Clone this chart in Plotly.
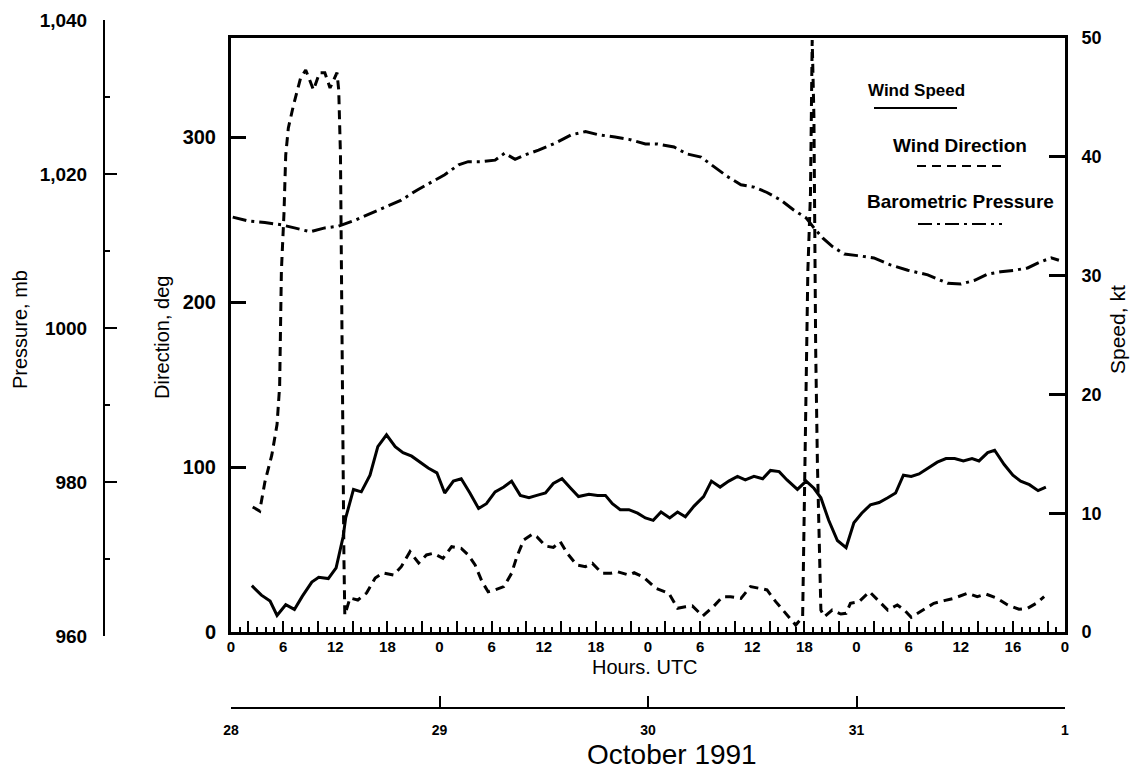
import plotly.graph_objects as go

# ---------------- data (hours after 28 Oct 1991 00 UTC) ----------------
speed_hours = [2.4, 3.5, 4.5, 5.3, 6.3, 7.3, 8.2, 9.3, 10.1, 11.2, 12.1, 12.9, 13.2, 14.1, 15.0,
               16.0, 16.9, 17.9, 18.9, 19.8, 20.8, 21.8, 22.7, 23.7, 24.6, 25.6, 26.5, 27.5, 28.5,
               29.4, 30.4, 31.4, 32.3, 33.3, 34.3, 35.2, 36.2, 37.1, 38.1, 39.1, 40.0, 41.2, 42.2,
               43.1, 43.9, 44.8, 45.8, 46.8, 47.7, 48.6, 49.5, 50.5, 51.4, 52.3, 53.3, 54.4, 55.3,
               56.3, 57.3, 58.3, 59.2, 60.2, 61.2, 62.1, 63.1, 64.0, 65.2, 66.2, 67.1, 67.9, 68.8,
               69.8, 70.8, 71.7, 72.6, 73.6, 74.6, 75.6, 76.5, 77.4, 78.3, 79.2, 80.2, 81.3, 82.3,
               83.3, 84.3, 85.3, 86.1, 87.1, 87.9, 89.0, 90.0, 90.9, 91.9, 92.9, 93.8]
speed_kt = [3.9, 3.1, 2.6, 1.4, 2.3, 1.9, 3.0, 4.2, 4.6, 4.5, 5.4, 8.0, 9.6, 12.0, 11.8,
            13.2, 15.6, 16.6, 15.6, 15.1, 14.8, 14.3, 13.8, 13.4, 11.7, 12.7, 12.9, 11.7, 10.4,
            10.8, 11.8, 12.2, 12.7, 11.5, 11.3, 11.5, 11.7, 12.5, 12.9, 12.1, 11.4, 11.6, 11.5,
            11.5, 10.8, 10.3, 10.3, 10.0, 9.6, 9.4, 10.1, 9.6, 10.1, 9.7, 10.6, 11.4, 12.7,
            12.2, 12.7, 13.1, 12.8, 13.1, 12.9, 13.6, 13.5, 12.8, 12.0, 12.7, 12.1, 11.3, 9.4,
            7.7, 7.1, 9.2, 10.0, 10.7, 10.9, 11.3, 11.7, 13.2, 13.1, 13.3, 13.8, 14.3, 14.6,
            14.6, 14.4, 14.6, 14.4, 15.1, 15.3, 14.1, 13.2, 12.7, 12.4, 11.9, 12.2]

dir_hours = [2.5, 3.3, 3.9, 4.7, 5.3, 5.6, 5.7, 5.8, 6.1, 6.3, 6.6, 7.2, 8.0, 8.6, 9.5, 10.2, 10.8,
             11.4, 12.2, 12.4, 12.6, 12.7, 12.8, 12.9, 13.0, 13.1, 13.7, 14.6, 15.6, 16.6, 17.5,
             18.7, 19.6, 20.6, 21.6, 22.5, 23.3, 24.4, 25.4, 26.5, 27.3, 28.1, 28.9, 29.6, 30.4,
             31.4, 32.3, 32.9, 33.7, 34.7, 35.2, 36.2, 37.1, 37.9, 38.7, 39.8, 40.8, 41.6, 42.7,
             43.7, 44.5, 45.8, 46.4, 47.5, 48.9, 50.4, 51.4, 52.3, 53.1, 54.3, 55.6, 56.6, 57.5,
             58.7, 59.8, 60.8, 61.7, 62.7, 64.0, 65.0, 65.8, 66.0, 66.2, 66.4, 66.7, 66.8, 66.9,
             67.1, 67.2, 67.3, 67.5, 67.7, 67.8, 67.9, 68.3, 69.2, 70.2, 70.8, 71.3, 72.3, 73.5,
             74.4, 75.6, 76.7, 77.5, 78.3, 79.8, 80.9, 82.1, 83.2, 84.8, 85.9, 86.9, 88.2, 89.4,
             90.7, 91.7, 92.7, 93.6]
dir_deg = [75.8, 73.3, 90.9, 107.3, 125.7, 149.1, 184.2, 218.8, 253.9, 289.1, 305.5, 319.4, 335.5,
           340.6, 328.5, 339.0, 339.0, 329.7, 339.0, 328.5, 289.1, 218.8, 149.1, 79.1, 44.2, 10.3,
           20.6, 19.4, 23.6, 32.7, 35.8, 34.5, 39.6, 48.7, 41.8, 46.7, 47.7, 44.7, 51.7, 50.7, 46.7,
           40.6, 30.5, 24.4, 25.5, 27.5, 35.6, 45.6, 55.8, 59.4, 57.8, 52.1, 51.3, 54.7, 47.7, 40.6,
           39.6, 41.6, 35.6, 35.6, 36.5, 34.5, 35.9, 33.2, 26.5, 23.5, 14.4, 15.3, 15.8, 9.7, 15.8,
           21.4, 21.4, 20.4, 27.5, 26.5, 25.5, 18.4, 10.3, 4.2, 9.1, 79.1, 149.1, 218.8, 265.5,
           312.1, 358.8, 312.1, 242.4, 172.1, 102.4, 55.8, 20.6, 13.3, 9.3, 13.3, 10.9, 11.3, 17.4,
           18.4, 24.4, 19.4, 13.3, 16.4, 13.3, 8.9, 13.8, 17.4, 19.0, 20.4, 23.5, 21.4, 23.0, 20.4,
           16.4, 13.8, 14.4, 17.4, 21.4]

pres_hours = [0.2, 2.0, 3.9, 5.8, 7.3, 9.1, 10.8, 12.3, 14.3, 16.2, 18.1, 19.6, 21.4, 23.1, 24.6,
              26.2, 27.3, 28.9, 30.4, 31.5, 32.7, 33.9, 35.4, 37.3, 39.2, 40.8, 42.3, 44.2, 45.8,
              47.7, 49.1, 51.0, 52.5, 54.1, 55.6, 57.1, 58.7, 60.2, 61.7, 63.3, 64.8, 66.2, 67.1,
              68.1, 69.2, 70.6, 72.1, 74.0, 75.9, 77.9, 80.2, 82.5, 84.0, 85.6, 87.1, 88.6, 90.2,
              91.7, 93.2, 94.4, 95.3]
pres_mb = [1014.4, 1013.9, 1013.7, 1013.4, 1013.0, 1012.5, 1013.0, 1013.2, 1014.0, 1014.9, 1015.8,
           1016.6, 1017.9, 1019.0, 1019.9, 1021.2, 1021.6, 1021.6, 1021.8, 1022.7, 1021.9, 1022.5,
           1023.1, 1024.0, 1025.1, 1025.5, 1025.1, 1024.8, 1024.5, 1023.9, 1023.9, 1023.5, 1022.6,
           1022.2, 1021.0, 1019.7, 1018.6, 1018.3, 1017.6, 1016.6, 1015.3, 1014.3, 1013.0, 1011.7,
           1010.6, 1009.6, 1009.4, 1009.1, 1008.2, 1007.5, 1006.9, 1005.8, 1005.7, 1006.2, 1007.0,
           1007.3, 1007.5, 1007.8, 1008.6, 1009.1, 1008.8]

hour_ticks = [0, 6, 12, 18, 24, 30, 36, 42, 48, 54, 60, 66, 72, 78, 84, 90, 96]
hour_labels = ['0', '6', '12', '18', '0', '6', '12', '18', '0', '6', '12', '18', '0', '6', '12', '16', '0']
day_ticks = [0, 24, 48, 72, 96]
day_labels = ['28', '29', '30', '31', '1']
dir_ticks = [0, 100, 200, 300]
speed_ticks = [0, 10, 20, 30, 40, 50]
pres_ticks = [960, 980, 1000, 1020, 1040]
pres_labels = ['960', '980', '1000', '1,020', '1,040']
pres_minor = [970, 990, 1010, 1030]

# ---------------- layout helpers (pixel -> paper) ----------------
W, H = 1134, 772
ML, MR, MT, MB = 10, 10, 10, 10
PW, PH = W - ML - MR, H - MT - MB


def fx(px):
    return (px - ML) / PW


def fy(py):
    return (H - MB - py) / PH


SANS = "Liberation Sans, Arial, sans-serif"
BLACK = "black"

fig = go.Figure()

fig.add_trace(go.Scatter(x=speed_hours, y=speed_kt, mode="lines", name="Wind Speed",
                         xaxis="x", yaxis="y2",
                         line=dict(color=BLACK, width=3), showlegend=False))
fig.add_trace(go.Scatter(x=dir_hours, y=dir_deg, mode="lines", name="Wind Direction",
                         xaxis="x", yaxis="y",
                         line=dict(color=BLACK, width=3, dash="9px,6px"), showlegend=False))
fig.add_trace(go.Scatter(x=pres_hours, y=pres_mb, mode="lines", name="Barometric Pressure",
                         xaxis="x", yaxis="y3",
                         line=dict(color=BLACK, width=3, dash="14px,5px,3px,5px"), showlegend=False))

# invisible helper traces so the hour-label axis and the date axis are rendered
fig.add_trace(go.Scatter(x=hour_ticks, y=[0] * len(hour_ticks), xaxis="x3", yaxis="y",
                         mode="markers", marker=dict(opacity=0), hoverinfo="skip",
                         showlegend=False))
fig.add_trace(go.Scatter(x=day_ticks, y=[0] * len(day_ticks), xaxis="x2", yaxis="y",
                         mode="markers", marker=dict(opacity=0), hoverinfo="skip",
                         showlegend=False))

xdom = [fx(231), fx(1065)]

fig.update_layout(
    width=W, height=H,
    margin=dict(l=ML, r=MR, t=MT, b=MB, autoexpand=False),
    paper_bgcolor="white", plot_bgcolor="rgba(0,0,0,0)",
    font=dict(family=SANS, color=BLACK),
    hovermode=False,
    xaxis=dict(domain=xdom, range=[0, 96], anchor="y", automargin=False,
               tickmode="linear", tick0=2, dtick=4, ticks="inside", ticklen=11, tickwidth=2,
               tickcolor=BLACK, showticklabels=False,
               minor=dict(dtick=1, tick0=0, ticks="inside", ticklen=5, tickwidth=1.5, tickcolor=BLACK),
               showline=True, linewidth=3, linecolor=BLACK, mirror=True,
               showgrid=False, zeroline=False, fixedrange=True),
    xaxis3=dict(overlaying="x", anchor="y", side="bottom", range=[0, 96], automargin=False,
                tickmode="array", tickvals=hour_ticks, ticktext=hour_labels, ticks="",
                tickfont=dict(family=SANS, size=15, weight="bold", color=BLACK),
                ticklabelstandoff=4,
                showline=False, showgrid=False, zeroline=False),
    xaxis2=dict(overlaying="x", anchor="free", position=fy(708), side="bottom", range=[0, 96],
                automargin=False,
                tickmode="array", tickvals=day_ticks, ticktext=day_labels,
                ticks="inside", ticklen=11, tickwidth=1.5, tickcolor=BLACK,
                tickfont=dict(family=SANS, size=14, weight="bold", color=BLACK),
                ticklabelstandoff=9,
                showline=True, linewidth=1.5, linecolor=BLACK,
                showgrid=False, zeroline=False),
    yaxis=dict(domain=[fy(632), fy(38)], range=[0, 360], anchor="x", automargin=False,
               tickmode="array", tickvals=dir_ticks, ticks="inside", ticklen=15, tickwidth=2.5,
               tickcolor=BLACK, tickfont=dict(family=SANS, size=20, weight="bold", color=BLACK),
               ticklabelstandoff=8,
               showline=True, linewidth=3, linecolor=BLACK,
               showgrid=False, zeroline=False),
    yaxis2=dict(overlaying="y", side="right", anchor="x", range=[0, 50], automargin=False,
                tickmode="array", tickvals=speed_ticks, ticks="inside", ticklen=16, tickwidth=2.5,
                tickcolor=BLACK, tickfont=dict(family=SANS, size=18, weight="bold", color=BLACK),
                ticklabelstandoff=10,
                showline=True, linewidth=3, linecolor=BLACK,
                showgrid=False, zeroline=False),
    yaxis3=dict(domain=[fy(636), fy(20)], anchor="free", position=fx(104), side="left",
                range=[960, 1040], automargin=False,
                tickmode="array", tickvals=pres_ticks, ticktext=pres_labels,
                ticks="inside", ticklen=12, tickwidth=2, tickcolor=BLACK,
                minor=dict(tickvals=pres_minor, ticks="inside", ticklen=5, tickwidth=2, tickcolor=BLACK),
                tickfont=dict(family=SANS, size=19, weight="bold", color=BLACK),
                ticklabelstandoff=12,
                showline=True, linewidth=2, linecolor=BLACK,
                showgrid=False, zeroline=False),
)

# axis titles
titles = [
    dict(text="Pressure, mb", x=fx(20), y=fy(330), textangle=-90, size=20, weight="normal"),
    dict(text="Direction, deg", x=fx(162), y=fy(338), textangle=-90, size=20, weight="normal"),
    dict(text="Speed, kt", x=fx(1118), y=fy(330), textangle=-90, size=21, weight="normal"),
    dict(text="Hours. UTC", x=fx(645), y=fy(667), textangle=0, size=20, weight="normal"),
    dict(text="October 1991", x=fx(672), y=fy(754), textangle=0, size=28, weight="normal"),
]
for t in titles:
    fig.add_annotation(text=t["text"], x=t["x"], y=t["y"], xref="paper", yref="paper",
                       xanchor="center", yanchor="middle", showarrow=False,
                       textangle=t["textangle"],
                       font=dict(family=SANS, size=t["size"], weight=t["weight"], color=BLACK))

# legend (text above a line sample)
legend_items = [
    ("Wind Speed", 916, 90, 17, 874, 957, 108, "solid"),
    ("Wind Direction", 960, 145, 19, 917, 1002, 166, "9px,6px"),
    ("Barometric Pressure", 960, 201, 19, 918, 1002, 224, "14px,5px,3px,5px"),
]
for label, tx, ty, fs, x0, x1, ly, dash in legend_items:
    fig.add_annotation(text=label, x=fx(tx), y=fy(ty), xref="paper", yref="paper",
                       xanchor="center", yanchor="middle", showarrow=False,
                       font=dict(family=SANS, size=fs, weight="bold", color=BLACK))
    fig.add_shape(type="line", xref="paper", yref="paper",
                  x0=fx(x0), x1=fx(x1), y0=fy(ly), y1=fy(ly),
                  line=dict(color=BLACK, width=2, dash=dash))

fig.write_html("out.html")
